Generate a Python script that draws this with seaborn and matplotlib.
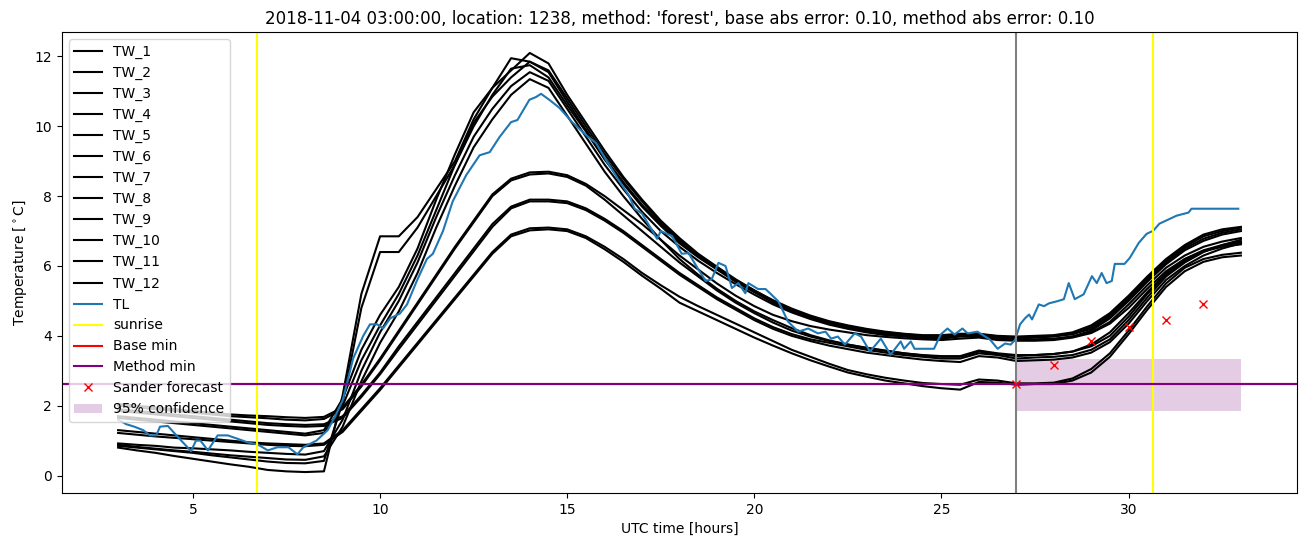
import numpy as np
import matplotlib
matplotlib.use("Agg")
import matplotlib.pyplot as plt
import seaborn as sns

# time axis of the water temperature sensors (half-hour samples, UTC hours)
tw_hours = np.arange(3.0, 33.01, 0.5)

tw_1 = [0.80, 0.72, 0.65, 0.56, 0.48, 0.40, 0.32, 0.25, 0.16, 0.12,
        0.10, 0.12, 2.30, 5.20, 6.85, 6.85, 7.40, 8.20, 9.00, 10.20,
        11.10, 11.95, 11.85, 11.60, 10.80, 10.00, 9.20, 8.50, 7.85, 7.25,
        6.75, 6.30, 5.95, 5.60, 5.30, 5.00, 4.75, 4.55, 4.40, 4.28,
        4.18, 4.10, 4.05, 4.00, 4.00, 4.05, 4.05, 3.98, 3.95, 3.98,
        4.00, 4.05, 4.25, 4.60, 5.10, 5.65, 6.15, 6.55, 6.85, 7.00,
        7.10]
tw_2 = [0.85, 0.80, 0.75, 0.70, 0.65, 0.58, 0.52, 0.46, 0.40, 0.36,
        0.35, 0.42, 2.10, 4.80, 6.40, 6.40, 7.10, 8.00, 8.90, 10.00,
        10.90, 11.65, 11.75, 11.40, 10.60, 9.85, 9.05, 8.35, 7.70, 7.15,
        6.65, 6.25, 5.90, 5.55, 5.25, 4.95, 4.70, 4.50, 4.35, 4.22,
        4.12, 4.05, 4.00, 3.95, 3.95, 4.00, 4.00, 3.92, 3.90, 3.90,
        3.92, 3.98, 4.15, 4.50, 5.00, 5.55, 6.05, 6.45, 6.72, 6.90,
        7.00]
tw_3 = [1.70, 1.65, 1.60, 1.55, 1.50, 1.45, 1.40, 1.35, 1.30, 1.25,
        1.20, 1.30, 2.20, 3.60, 4.60, 5.40, 6.50, 7.90, 9.20, 10.40,
        11.10, 11.60, 12.10, 11.80, 10.90, 10.10, 9.30, 8.55, 7.90, 7.30,
        6.80, 6.35, 5.98, 5.62, 5.30, 5.02, 4.78, 4.58, 4.42, 4.30,
        4.20, 4.12, 4.06, 4.02, 4.02, 4.06, 4.06, 4.00, 3.98, 4.00,
        4.02, 4.10, 4.30, 4.65, 5.15, 5.70, 6.20, 6.60, 6.90, 7.05,
        7.12]
tw_4 = [1.65, 1.60, 1.55, 1.50, 1.45, 1.40, 1.35, 1.30, 1.25, 1.20,
        1.15, 1.22, 2.00, 3.30, 4.30, 5.20, 6.30, 7.60, 8.90, 10.10,
        10.85, 11.40, 11.85, 11.55, 10.70, 9.90, 9.10, 8.40, 7.75, 7.20,
        6.70, 6.28, 5.92, 5.58, 5.27, 4.98, 4.73, 4.53, 4.38, 4.25,
        4.15, 4.08, 4.02, 3.98, 3.98, 4.02, 4.02, 3.95, 3.92, 3.95,
        3.98, 4.05, 4.20, 4.55, 5.05, 5.60, 6.10, 6.50, 6.78, 6.95,
        7.05]
tw_5 = [0.92, 0.88, 0.85, 0.80, 0.78, 0.75, 0.72, 0.68, 0.65, 0.62,
        0.60, 0.70, 1.60, 3.00, 4.10, 5.00, 6.10, 7.40, 8.60, 9.70,
        10.50, 11.15, 11.55, 11.30, 10.50, 9.70, 8.90, 8.20, 7.55, 7.00,
        6.55, 6.15, 5.80, 5.48, 5.18, 4.90, 4.67, 4.48, 4.32, 4.20,
        4.10, 4.02, 3.98, 3.92, 3.92, 3.98, 3.98, 3.90, 3.88, 3.88,
        3.90, 3.98, 4.10, 4.40, 4.90, 5.45, 5.95, 6.30, 6.55, 6.70,
        6.80]
tw_6 = [0.88, 0.82, 0.77, 0.72, 0.68, 0.63, 0.58, 0.54, 0.50, 0.46,
        0.45, 0.55, 1.40, 2.70, 3.80, 4.70, 5.80, 7.10, 8.30, 9.40,
        10.20, 10.90, 11.35, 11.10, 10.30, 9.50, 8.70, 8.00, 7.35, 6.75,
        6.20, 5.75, 5.35, 5.00, 4.70, 4.45, 4.22, 4.02, 3.87, 3.75,
        3.65, 3.57, 3.50, 3.44, 3.40, 3.40, 3.55, 3.48, 3.42, 3.45,
        3.48, 3.55, 3.75, 4.10, 4.65, 5.25, 5.80, 6.20, 6.45, 6.60,
        6.70]
tw_7 = [2.05, 2.00, 1.95, 1.90, 1.85, 1.80, 1.75, 1.72, 1.70, 1.67,
        1.65, 1.68, 1.95, 2.60, 3.35, 4.15, 4.95, 5.75, 6.55, 7.30,
        8.05, 8.50, 8.68, 8.70, 8.60, 8.35, 8.00, 7.60, 7.20, 6.75,
        6.30, 5.90, 5.50, 5.15, 4.85, 4.60, 4.42, 4.28, 4.18, 4.10,
        4.02, 3.97, 3.93, 3.90, 3.88, 3.92, 3.95, 3.88, 3.86, 3.86,
        3.88, 3.95, 4.08, 4.35, 4.80, 5.35, 5.85, 6.20, 6.42, 6.55,
        6.62]
tw_8 = [2.00, 1.95, 1.90, 1.85, 1.80, 1.75, 1.70, 1.67, 1.64, 1.60,
        1.58, 1.62, 1.90, 2.55, 3.30, 4.10, 4.90, 5.70, 6.50, 7.25,
        8.00, 8.45, 8.62, 8.65, 8.55, 8.30, 7.90, 7.45, 7.00, 6.55,
        6.10, 5.70, 5.30, 4.95, 4.65, 4.38, 4.15, 3.98, 3.85, 3.75,
        3.66, 3.58, 3.50, 3.45, 3.42, 3.42, 3.58, 3.50, 3.45, 3.45,
        3.48, 3.55, 3.70, 4.00, 4.55, 5.20, 5.75, 6.15, 6.42, 6.58,
        6.68]
tw_9 = [1.90, 1.85, 1.80, 1.75, 1.70, 1.65, 1.60, 1.55, 1.50, 1.47,
        1.45, 1.47, 1.70, 2.30, 2.95, 3.70, 4.40, 5.10, 5.80, 6.50,
        7.20, 7.70, 7.90, 7.90, 7.85, 7.65, 7.35, 7.00, 6.60, 6.20,
        5.80, 5.45, 5.10, 4.80, 4.50, 4.25, 4.05, 3.90, 3.80, 3.70,
        3.60, 3.52, 3.45, 3.40, 3.35, 3.35, 3.50, 3.45, 3.35, 3.38,
        3.40, 3.45, 3.60, 3.90, 4.45, 5.10, 5.70, 6.10, 6.40, 6.60,
        6.75]
tw_10 = [1.85, 1.80, 1.75, 1.70, 1.65, 1.60, 1.55, 1.50, 1.45, 1.42,
         1.40, 1.42, 1.65, 2.25, 2.90, 3.62, 4.32, 5.02, 5.72, 6.42,
         7.12, 7.65, 7.85, 7.85, 7.80, 7.60, 7.30, 6.95, 6.55, 6.15,
         5.75, 5.40, 5.05, 4.75, 4.45, 4.20, 4.00, 3.85, 3.72, 3.62,
         3.52, 3.45, 3.38, 3.32, 3.28, 3.25, 3.42, 3.38, 3.28, 3.30,
         3.32, 3.38, 3.52, 3.82, 4.35, 5.00, 5.60, 6.00, 6.30, 6.50,
         6.65]
tw_11 = [1.30, 1.25, 1.20, 1.15, 1.10, 1.05, 1.00, 0.95, 0.92, 0.90,
         0.88, 0.92, 1.30, 1.90, 2.50, 3.15, 3.80, 4.45, 5.10, 5.75,
         6.40, 6.90, 7.08, 7.10, 7.05, 6.85, 6.55, 6.20, 5.80, 5.45,
         5.12, 4.85, 4.60, 4.35, 4.10, 3.85, 3.60, 3.40, 3.20, 3.02,
         2.90, 2.80, 2.72, 2.65, 2.62, 2.60, 2.75, 2.72, 2.64, 2.64,
         2.66, 2.78, 3.05, 3.50, 4.15, 4.85, 5.50, 5.95, 6.20, 6.32,
         6.38]
tw_12 = [1.22, 1.17, 1.12, 1.08, 1.04, 1.00, 0.96, 0.92, 0.88, 0.85,
         0.84, 0.88, 1.25, 1.85, 2.45, 3.10, 3.75, 4.40, 5.05, 5.70,
         6.35, 6.85, 7.02, 7.05, 7.00, 6.80, 6.48, 6.12, 5.72, 5.35,
         4.95, 4.70, 4.45, 4.20, 3.95, 3.72, 3.50, 3.30, 3.12, 2.95,
         2.83, 2.72, 2.64, 2.56, 2.50, 2.46, 2.68, 2.66, 2.60, 2.62,
         2.62, 2.72, 2.95, 3.40, 4.05, 4.75, 5.40, 5.85, 6.12, 6.25,
         6.30]

# air temperature
tl_hours = [3.0, 3.22, 3.43, 3.67, 3.85, 4.02, 4.12, 4.33, 4.6, 4.81,
            4.95, 5.08, 5.2, 5.4, 5.66, 5.93, 6.2, 6.46, 6.73, 7.0,
            7.26, 7.55, 7.79, 7.95, 8.3, 8.6, 8.8, 9.0, 9.28, 9.55,
            9.73, 9.92, 10.08, 10.27, 10.53, 10.72, 10.98, 11.25, 11.41, 11.68,
            11.94, 12.3, 12.66, 12.93, 13.19, 13.5, 13.67, 13.99, 14.17, 14.3,
            14.52, 14.79, 15.13, 15.5, 15.77, 16.04, 16.38, 16.65, 16.8, 17.0,
            17.4, 17.5, 17.8, 18.06, 18.24, 18.5, 18.7, 18.86, 19.04, 19.23,
            19.4, 19.57, 19.76, 19.84, 20.1, 20.3, 20.64, 20.9, 21.17, 21.44,
            21.7, 21.9, 22.05, 22.23, 22.42, 22.68, 22.85, 23.09, 23.38, 23.64,
            23.91, 24.0, 24.18, 24.28, 24.8, 24.98, 25.16, 25.35, 25.56, 25.7,
            25.96, 26.3, 26.5, 26.7, 26.85, 26.97, 27.1, 27.23, 27.34, 27.42,
            27.6, 27.74, 27.87, 28.09, 28.27, 28.4, 28.56, 28.8, 29.02, 29.15,
            29.28, 29.41, 29.55, 29.63, 29.89, 30.03, 30.27, 30.48, 30.66, 30.82,
            31.1, 31.28, 31.6, 31.68, 32.93]
tl_temp = [1.6, 1.47, 1.4, 1.3, 1.15, 1.15, 1.4, 1.42, 1.1, 0.86,
           0.7, 1.0, 1.0, 0.72, 1.15, 1.15, 1.05, 0.95, 0.89, 0.72,
           0.81, 0.81, 0.61, 0.81, 1.0, 1.3, 1.7, 2.15, 3.35, 4.0,
           4.33, 4.33, 4.21, 4.5, 4.64, 4.9, 5.57, 6.2, 6.35, 7.0,
           7.85, 8.6, 9.17, 9.26, 9.69, 10.12, 10.18, 10.76, 10.84, 10.93,
           10.76, 10.53, 10.12, 9.75, 9.52, 9.03, 8.45, 8.02, 7.64, 7.5,
           6.78, 7.0, 6.86, 6.35, 6.37, 5.91, 5.57, 5.62, 6.09, 6.0,
           5.37, 5.51, 5.22, 5.51, 5.34, 5.34, 4.99, 4.41, 4.12, 4.21,
           4.07, 4.12, 3.92, 3.98, 3.75, 4.07, 3.98, 3.55, 3.92, 3.46,
           3.84, 3.63, 3.84, 3.63, 3.63, 4.04, 4.21, 4.04, 4.21, 4.07,
           4.12, 3.89, 3.63, 3.78, 3.75, 3.89, 4.33, 4.5, 4.61, 4.47,
           4.9, 4.85, 4.93, 4.99, 5.05, 5.51, 5.05, 5.19, 5.71, 5.51,
           5.8, 5.51, 5.57, 6.06, 6.06, 6.23, 6.66, 6.92, 7.01, 7.21,
           7.35, 7.44, 7.53, 7.64, 7.64]

sunrise_hours = [6.7, 30.66]
forecast_start = 27.0
base_min = 2.62
method_min = 2.62
forecast_hours = [27, 28, 29, 30, 31, 32]
forecast_temp = [2.62, 3.17, 3.84, 4.24, 4.44, 4.90]
conf_hours = [27, 33]
conf_low = 1.85
conf_high = 3.35

title = ("2018-11-04 03:00:00, location: 1238, method: 'forest', "
         "base abs error: 0.10, method abs error: 0.10")

tw_all = [tw_1, tw_2, tw_3, tw_4, tw_5, tw_6, tw_7, tw_8, tw_9, tw_10, tw_11, tw_12]

fig, ax = plt.subplots(figsize=(13.1, 5.47), dpi=100)
fig.subplots_adjust(left=0.0473, right=0.9901, bottom=0.0987, top=0.9415)

for i, tw in enumerate(tw_all):
    sns.lineplot(x=tw_hours, y=tw, color="black", label=f"TW_{i + 1}", ax=ax)
sns.lineplot(x=tl_hours, y=tl_temp, color="#1f77b4", label="TL", ax=ax)

ax.axvline(sunrise_hours[0], color="yellow", label="sunrise")
ax.axvline(sunrise_hours[1], color="yellow")
ax.axvline(forecast_start, color="gray")
ax.axhline(base_min, color="red", label="Base min")
ax.axhline(method_min, color="purple", label="Method min")
ax.plot(forecast_hours, forecast_temp, "x", color="red", label="Sander forecast")
ax.fill_between(conf_hours, conf_low, conf_high, color="purple", alpha=0.2,
                linewidth=0, label="95% confidence")

ax.set_title(title)
ax.set_xlabel("UTC time [hours]")
ax.set_ylabel(r"Temperature [$^\circ$C]")
ax.legend(loc="upper left")

plt.savefig("out.png", dpi=100)
plt.close()
